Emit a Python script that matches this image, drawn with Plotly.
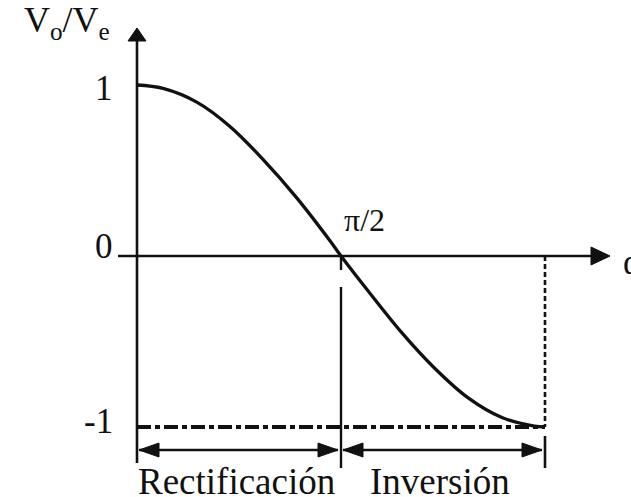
import math
import plotly.graph_objects as go

# Transfer characteristic of a controlled converter: Vo/Ve against firing angle alpha (rad)
alpha = [0.0, 0.20, 0.46, 0.72, 0.97, 1.23, 1.49, math.pi / 2, 1.78, 2.04, 2.29, 2.55, 2.81, 3.06, math.pi]
ratio = [1.0, 0.98, 0.90, 0.755, 0.565, 0.34, 0.085, 0.0, -0.205, -0.45, -0.655, -0.83, -0.945, -0.995, -1.0]

y_ticks = [1, 0, -1]
y_tick_text = ["1", "0", "-1"]
y_label_shift_px = [-3, 10, 6]
region_names = ["Rectificación", "Inversión"]
region_bounds = [0.0, math.pi / 2, math.pi]
mid_label = "π/2"

W, H = 631, 497
X0_PX, XPI_PX = 137, 545      # pixel positions of alpha = 0 and alpha = pi
Y0_PX, SY = 256, 171          # pixel row of zero, pixels per unit
SX = (XPI_PX - X0_PX) / math.pi

def dx(px):
    return px / SX

def dy(px):
    return px / SY

x_range = [-X0_PX / SX, (W - X0_PX) / SX]
y_range = [-(H - Y0_PX) / SY, Y0_PX / SY]

FONT = "Liberation Serif, Times New Roman, serif"
INK = "#111111"

fig = go.Figure()
fig.add_trace(go.Scatter(
    x=alpha, y=ratio, mode="lines",
    line=dict(color=INK, width=3.3, shape="spline", smoothing=1.0),
    hoverinfo="skip", showlegend=False,
))

shapes = []

def seg(x0, y0, x1, y1, width=2.4, dash="solid"):
    shapes.append(dict(type="line", x0=x0, y0=y0, x1=x1, y1=y1,
                       line=dict(color=INK, width=width, dash=dash), layer="above"))

def tri(tip_x, tip_y, direction, length_px, half_px):
    # filled arrow head pointing in `direction`
    if direction in ("left", "right"):
        s = 1 if direction == "right" else -1
        bx = tip_x - s * dx(length_px)
        path = f"M {tip_x},{tip_y} L {bx},{tip_y + dy(half_px)} L {bx},{tip_y - dy(half_px)} Z"
    else:
        s = 1 if direction == "up" else -1
        by = tip_y - s * dy(length_px)
        path = f"M {tip_x},{tip_y} L {tip_x + dx(half_px)},{by} L {tip_x - dx(half_px)},{by} Z"
    shapes.append(dict(type="path", path=path, fillcolor=INK, line=dict(color=INK, width=1), layer="above"))

y_min, y_max = y_ticks[-1], y_ticks[0]

# vertical axis with arrow
seg(0, dy(Y0_PX - 40), 0, -dy(463 - Y0_PX), width=2.6)
tri(0, dy(Y0_PX - 28), "up", 13, 9)
# horizontal axis with arrow and small tick at the left
seg(-dx(19), 0, dx(592 - X0_PX), 0, width=2.6)
tri(dx(610 - X0_PX), 0, "right", 19, 9)

# level -1 reference line
seg(0, y_min, region_bounds[-1], y_min, width=4.2, dash="14px,4px,5px,4px")

# boundary at pi/2
seg(region_bounds[1], 0, region_bounds[1], -dy(14), width=2.4)
seg(region_bounds[1], -dy(31), region_bounds[1], y_min - dy(41), width=2.4)
# boundary at pi
seg(region_bounds[2], 0, region_bounds[2], y_min, width=2.6, dash="5px,3px")
seg(region_bounds[2], y_min - dy(9), region_bounds[2], y_min - dy(41), width=2.6)

# double-headed range arrows
arrow_y = y_min - dy(23)
for a, b in zip(region_bounds[:-1], region_bounds[1:]):
    la = a + dx(2)
    lb = b - dx(3)
    seg(la, arrow_y, lb, arrow_y, width=2.4)
    tri(la, arrow_y, "left", 20, 7)
    tri(lb, arrow_y, "right", 20, 7)

annotations = []
for v, t, sh in zip(y_ticks, y_tick_text, y_label_shift_px):
    annotations.append(dict(x=-dx(22), y=v + dy(sh), text=t,
                            xanchor="right", yanchor="middle", showarrow=False,
                            font=dict(family=FONT, size=35, color=INK)))

annotations.append(dict(x=-dx(115), y=dy(Y0_PX - 22), text="V<sub>o</sub>/V<sub>e</sub>",
                        xanchor="left", yanchor="middle", showarrow=False,
                        font=dict(family=FONT, size=36, color=INK)))
annotations.append(dict(x=region_bounds[1] + dx(1), y=dy(16), text=mid_label,
                        xanchor="left", yanchor="bottom", showarrow=False,
                        font=dict(family=FONT, size=32, color=INK)))
annotations.append(dict(x=dx(621 - X0_PX), y=-dy(6), text="α",
                        xanchor="left", yanchor="middle", showarrow=False,
                        font=dict(family=FONT, size=35, color=INK)))

for name, a, b in zip(region_names, region_bounds[:-1], region_bounds[1:]):
    annotations.append(dict(x=(a + b) / 2 - dx(3), y=y_min - dy(54), text=name,
                            xanchor="center", yanchor="middle", showarrow=False,
                            font=dict(family=FONT, size=37, color=INK)))

fig.update_layout(
    width=W, height=H,
    margin=dict(l=0, r=0, t=0, b=0),
    paper_bgcolor="white", plot_bgcolor="white",
    xaxis=dict(range=x_range, visible=False, fixedrange=True),
    yaxis=dict(range=y_range, visible=False, fixedrange=True),
    shapes=shapes, annotations=annotations,
    showlegend=False,
)

fig.write_html("out.html")
